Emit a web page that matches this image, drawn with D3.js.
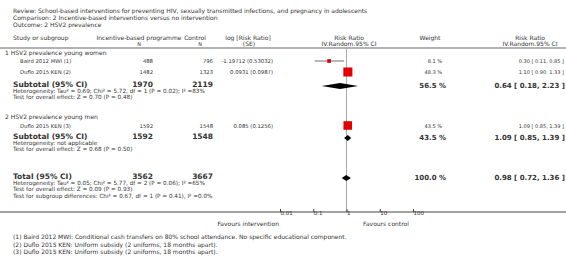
<!DOCTYPE html>
<html>
<head>
<meta charset="utf-8">
<script src="https://cdn.jsdelivr.net/npm/d3@7"></script>
<style>
  body { margin: 0; background: #fff; }
  svg text { font-family: Verdana, "DejaVu Sans", sans-serif; fill: #333; }
</style>
</head>
<body>
<svg id="chart"></svg>
<script>
const width = 566;
const height = 265;

// Header texts
const titleLines = [
  "Review:  School-based interventions for preventing HIV, sexually transmitted infections, and pregnancy in adolescents",
  "Comparison:  2 Incentive-based interventions versus no intervention",
  "Outcome:  2 HSV2 prevalence"
];

// Studies
const studyNames = ["Baird 2012 MWI (1)", "Duflo 2015 KEN (2)", "Duflo 2015 KEN (3)"];
const interventionN = [488, 1482, 1592];
const controlN = [796, 1323, 1548];
const logRR = ["-1.19712", "0.0931", "0.085"];
const logSE = ["0.53032", "0.0987", "0.1256"];
const weights = [8.1, 48.3, 43.5];
const rr = [0.30, 1.10, 1.09];
const rrLow = [0.11, 0.90, 0.85];
const rrHigh = [0.85, 1.33, 1.39];

// Subgroups
const groupNames = ["1 HSV2 prevalence young women", "2 HSV2 prevalence young men"];
const groupIntN = [1970, 1592];
const groupCtlN = [2119, 1548];
const groupWeight = [56.5, 43.5];
const groupRR = [0.64, 1.09];
const groupLow = [0.18, 0.85];
const groupHigh = [2.23, 1.39];
const groupHet = [
  "Heterogeneity: Tau\u00b2 = 0.69; Chi\u00b2 = 5.72, df = 1 (P = 0.02); I\u00b2 =83%",
  "Heterogeneity: not applicable"
];
const groupTest = ["Test for overall effect: Z = 0.70 (P = 0.48)", "Test for overall effect: Z = 0.68 (P = 0.50)"];

// Overall
const totalIntN = 3562;
const totalCtlN = 3667;
const totalWeight = 100.0;
const totalRR = 0.98, totalLow = 0.72, totalHigh = 1.36;
const totalLines = [
  "Heterogeneity: Tau\u00b2 = 0.05; Chi\u00b2 = 5.77, df = 2 (P = 0.06); I\u00b2 =65%",
  "Test for overall effect: Z = 0.09 (P = 0.93)",
  "Test for subgroup differences: Chi\u00b2 = 0.67, df = 1 (P = 0.41), I\u00b2 =0.0%"
];

const tickValues = [0.01, 0.1, 1, 10, 100];
const tickLabels = ["0.01", "0.1", "1", "10", "100"];

const footnotes = [
  "(1) Baird 2012 MWI: Conditional cash transfers on 80% school attendance. No specific educational component.",
  "(2) Duflo 2015 KEN: Uniform subsidy (2 uniforms, 18 months apart).",
  "(3) Duflo 2015 KEN: Uniform subsidy (2 uniforms, 18 months apart)."
];

const svg = d3.select("#chart").attr("width", width).attr("height", height);

const x = d3.scaleLog().domain([0.01, 100]).range([280, 413]);
const fmt2 = d3.format(".2f");
const ci = (m, l, h) => `${fmt2(m)} [ ${fmt2(l)}, ${fmt2(h)} ]`;

// column anchors
const colInt = 153, colCtl = 213, colLog = 273, colW = 446, colCI = 564;
const axisY = 212, plotTop = 48;

function txt(xp, yp, s, size, anchor, bold) {
  return svg.append("text")
    .attr("x", xp).attr("y", yp)
    .attr("font-size", size)
    .attr("text-anchor", anchor || "start")
    .attr("font-weight", bold ? "bold" : "normal")
    .text(s);
}

// title block
titleLines.forEach((t, i) => txt(13, 13 + i * 7, t, 6));

// column headers
txt(13, 40, "Study or subgroup", 6);
txt(139, 40, "Incentive-based programme", 6, "middle");
txt(139, 46, "N", 5, "middle");
txt(195, 40, "Control", 6, "middle");
txt(200, 46, "N", 5, "middle");
txt(248, 40, "log [Risk Ratio]", 6, "middle");
txt(249, 46, "(SE)", 6, "middle");
txt(349, 40, "Risk Ratio", 6, "middle");
txt(349, 46, "IV.Random.95% CI", 6, "middle");
txt(430, 40, "Weight", 6, "middle");
txt(530, 40, "Risk Ratio", 6, "middle");
txt(530, 46, "IV.Random.95% CI", 6, "middle");

svg.append("line")
  .attr("x1", 0).attr("x2", width)
  .attr("y1", plotTop).attr("y2", plotTop)
  .attr("stroke", "#999").attr("stroke-width", 1.5);

// vertical line of no effect
svg.append("line")
  .attr("x1", x(1)).attr("x2", x(1))
  .attr("y1", plotTop).attr("y2", axisY)
  .attr("stroke", "#aaa").attr("stroke-width", 1);

// row positions
const groupHeadY = [55, 119];
const studyY = [61, 72, 125.5];
const subY = [86, 138];
const totalY = 178;

function diamond(m, l, h, yc) {
  const pts = [[x(l), yc], [x(m), yc - 3], [x(h), yc], [x(m), yc + 3]];
  svg.append("polygon")
    .attr("points", pts.map(p => p.join(",")).join(" "))
    .attr("fill", "#000");
}

groupNames.forEach((g, gi) => {
  txt(5, groupHeadY[gi], g, 6);
  txt(13, subY[gi] + 1, "Subtotal (95% CI)", 7.5, "start", true);
  txt(colInt, subY[gi] + 1, groupIntN[gi], 7.5, "end", true);
  txt(colCtl, subY[gi] + 1, groupCtlN[gi], 7.5, "end", true);
  txt(colW, subY[gi] + 2, groupWeight[gi].toFixed(1) + " %", 7, "end", true);
  txt(colCI + 1, subY[gi] + 2, ci(groupRR[gi], groupLow[gi], groupHigh[gi]), 7, "end", true);
  txt(13, subY[gi] + 7, groupHet[gi], 5.7);
  txt(13, subY[gi] + 13, groupTest[gi], 5.7);
  diamond(groupRR[gi], groupLow[gi], groupHigh[gi], subY[gi]);
});

studyNames.forEach((s, i) => {
  const yc = studyY[i];
  txt(20, yc + 2, s, 5.3);
  txt(colInt, yc + 2, interventionN[i], 5.3, "end");
  txt(colCtl, yc + 2, controlN[i], 5.3, "end");
  txt(colLog, yc + 2, `${logRR[i]} (${logSE[i]})`, 5.3, "end");
  txt(colW - 4, yc + 2, weights[i].toFixed(1) + " %", 5, "end");
  txt(colCI, yc + 2, ci(rr[i], rrLow[i], rrHigh[i]), 5, "end");
  svg.append("line")
    .attr("x1", x(rrLow[i])).attr("x2", x(rrHigh[i]))
    .attr("y1", yc).attr("y2", yc)
    .attr("stroke", "#333").attr("stroke-width", 0.7);
  const sz = Math.sqrt(weights[i]) * 1.3;
  svg.append("rect")
    .attr("x", x(rr[i]) - sz / 2).attr("y", yc - sz / 2)
    .attr("width", sz).attr("height", sz)
    .attr("fill", "#e00000");
});

// total
txt(13, totalY + 1, "Total (95% CI)", 7.5, "start", true);
txt(colInt, totalY + 1, totalIntN, 7.5, "end", true);
txt(colCtl, totalY + 1, totalCtlN, 7.5, "end", true);
txt(colW, totalY + 2, totalWeight.toFixed(1) + " %", 7, "end", true);
txt(colCI + 1, totalY + 2, ci(totalRR, totalLow, totalHigh), 7, "end", true);
totalLines.forEach((t, i) => txt(13, totalY + 7 + i * 6.3, t, 5.7));
diamond(totalRR, totalLow, totalHigh, totalY);

// axis
svg.append("line")
  .attr("x1", 0).attr("x2", width)
  .attr("y1", axisY).attr("y2", axisY)
  .attr("stroke", "#444").attr("stroke-width", 1);

const axis = d3.axisBottom(x)
  .tickValues(tickValues)
  .tickFormat((d, i) => tickLabels[i])
  .tickSize(-3)
  .tickPadding(-1);

const ag = svg.append("g").attr("transform", `translate(0,${axisY})`).call(axis);
ag.select(".domain").remove();
ag.selectAll(".tick line").attr("stroke", "#444");
ag.selectAll(".tick text")
  .attr("text-anchor", "start")
  .attr("font-size", 5.5)
  .attr("fill", "#333")
  .attr("font-family", "Verdana, 'DejaVu Sans', sans-serif");

txt(279, 226, "Favours intervention", 6, "end");
txt(363, 226, "Favours control", 6, "start");

footnotes.forEach((f, i) => txt(13, 239 + i * 7.5, f, 6));
</script>
</body>
</html>
